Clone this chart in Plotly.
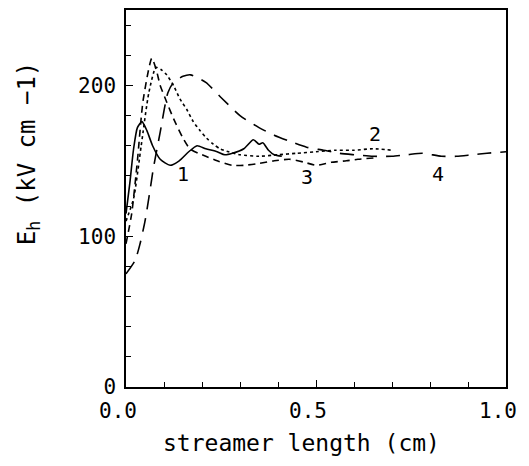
import plotly.graph_objects as go

# Curve 1 (solid)
x1 = [0.0, 0.01, 0.02, 0.03, 0.042, 0.055, 0.07, 0.09, 0.116, 0.14, 0.165, 0.187, 0.21, 0.24, 0.26, 0.28, 0.31, 0.335, 0.35, 0.36, 0.375, 0.39, 0.41]
y1 = [115, 135, 158, 172, 176, 170, 160, 151, 147, 150, 156, 160, 158, 156, 154, 155, 158, 164, 161, 162, 157, 154, 153]

# Curve 2 (fine dots)
x2 = [0.0, 0.02, 0.04, 0.06, 0.079, 0.095, 0.107, 0.125, 0.142, 0.16, 0.177, 0.195, 0.212, 0.23, 0.247, 0.27, 0.3, 0.35, 0.4, 0.45, 0.5, 0.55, 0.6, 0.65, 0.7]
y2 = [110, 125, 160, 195, 212, 210, 207, 200, 191, 184, 176, 170, 165, 161, 158, 156, 154, 153, 154, 155, 156, 157, 157, 158, 157]

# Curve 3 (medium dash)
x3 = [0.0, 0.015, 0.03, 0.045, 0.068, 0.08, 0.09, 0.107, 0.125, 0.15, 0.168, 0.19, 0.21, 0.24, 0.28, 0.31, 0.345, 0.39, 0.43, 0.47, 0.5, 0.54, 0.58, 0.61, 0.66]
y3 = [95, 115, 150, 190, 218, 210, 200, 189, 178, 165, 158, 155, 153, 150, 147, 147, 148, 150, 151, 149, 147, 149, 150, 151, 152]

# Curve 4 (long dash)
x4 = [0.0, 0.024, 0.037, 0.05, 0.063, 0.072, 0.09, 0.11, 0.125, 0.15, 0.17, 0.21, 0.25, 0.3, 0.35, 0.39, 0.43, 0.475, 0.52, 0.56, 0.6, 0.65, 0.7, 0.74, 0.78, 0.83, 0.87, 0.91, 0.95, 1.0]
y4 = [75, 84, 95, 110, 130, 145, 169, 195, 202, 206, 207, 202, 192, 180, 172, 167, 163, 159, 157, 155, 154, 153, 153, 154, 155, 153, 153, 154, 155, 156]

labels = ["1", "2", "3", "4"]
label_x = [0.15, 0.655, 0.476, 0.82]
label_y = [141, 168, 139, 141]

x_tick_vals = [0, 0.5, 1.0]
x_tick_text = ["0.0", "0.5", "1.0"]
y_tick_vals = [0, 100, 200]

x_title = "streamer length (cm)"
y_title = "E<sub>h</sub> (kV cm −1)"

FONT = "DejaVu Sans Mono"

fig = go.Figure()
line_style = dict(color="black", width=1.6)
fig.add_trace(go.Scatter(x=x1, y=y1, mode="lines", line=dict(**line_style, dash="solid", shape="spline", smoothing=0.6)))
fig.add_trace(go.Scatter(x=x2, y=y2, mode="lines", line=dict(**line_style, dash="3px,3px", shape="spline", smoothing=0.6)))
fig.add_trace(go.Scatter(x=x3, y=y3, mode="lines", line=dict(**line_style, dash="7px,5px", shape="spline", smoothing=0.6)))
fig.add_trace(go.Scatter(x=x4, y=y4, mode="lines", line=dict(**line_style, dash="14px,9px", shape="spline", smoothing=0.6)))

for t, lx, ly in zip(labels, label_x, label_y):
    fig.add_annotation(x=lx, y=ly, text=t, showarrow=False,
                       font=dict(family=FONT, size=20, color="black"))

# axis titles as annotations (offset like the original)
fig.add_annotation(xref="paper", yref="paper", x=0.461, y=-0.148, text=x_title,
                   showarrow=False, xanchor="center", yanchor="middle",
                   font=dict(family=FONT, size=23, color="black"))
fig.add_annotation(xref="paper", yref="y", x=-0.258, y=155, text=y_title,
                   showarrow=False, xanchor="center", yanchor="middle", textangle=-90,
                   font=dict(family=FONT, size=24, color="black"))

axis_font = dict(family=FONT, size=21, color="black")
fig.update_layout(
    width=521, height=458,
    margin=dict(l=118, r=23, t=0, b=79),
    plot_bgcolor="white", paper_bgcolor="white",
    showlegend=False,
    xaxis=dict(range=[0, 1.0], tickvals=x_tick_vals, ticktext=x_tick_text,
               ticks="inside", ticklen=7, tickwidth=1.2, tickcolor="black",
               minor=dict(dtick=0.1, ticks="inside", ticklen=5, tickcolor="black", tickwidth=1.2),
               showline=True, linecolor="black", linewidth=1.5, mirror=True,
               showgrid=False, zeroline=False, tickfont=axis_font,
               ticklabelshift=-8, ticklabelstandoff=4),
    yaxis=dict(range=[0, 250], tickvals=y_tick_vals,
               ticks="inside", ticklen=7, tickwidth=1.2, tickcolor="black",
               minor=dict(dtick=20, ticks="inside", ticklen=5, tickcolor="black", tickwidth=1.2),
               showline=True, linecolor="black", linewidth=1.5, mirror=True,
               showgrid=False, zeroline=False, tickfont=axis_font,
               ticklabelstandoff=4),
)

fig.write_html("out.html")
